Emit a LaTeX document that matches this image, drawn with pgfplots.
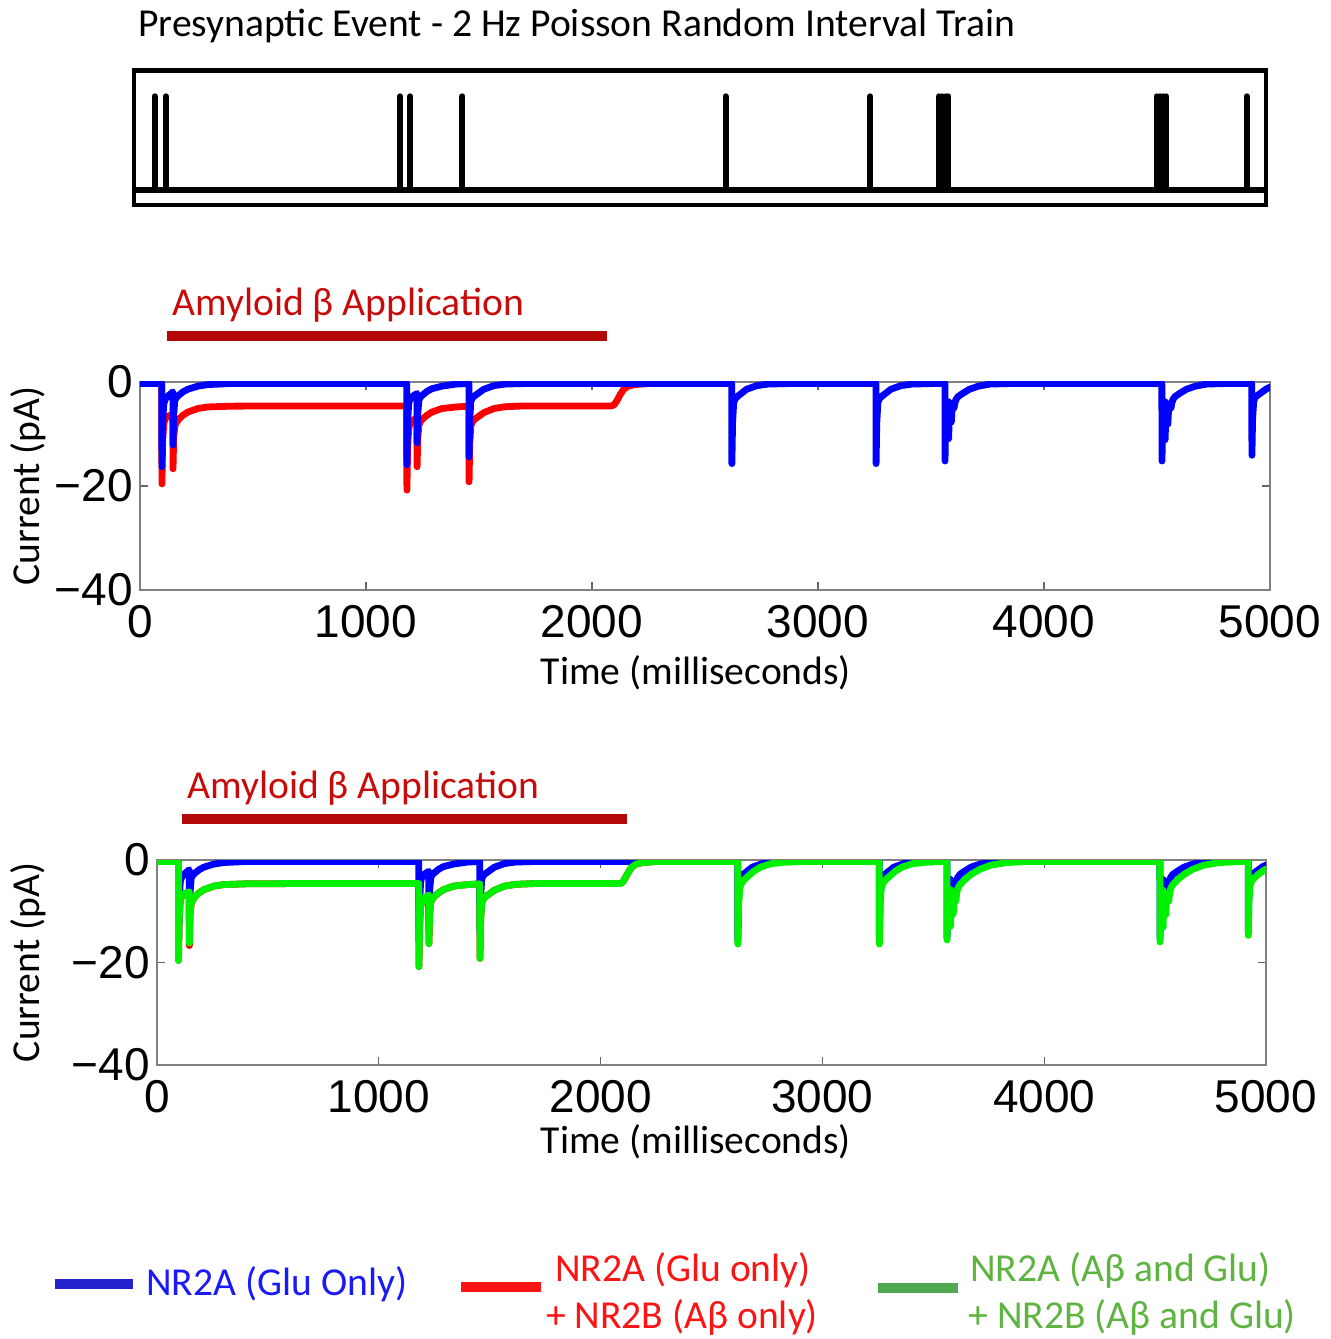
\documentclass[border=0pt]{standalone}
\usepackage{pgfplots}
\usepackage{pgfplotstable}
\pgfplotsset{compat=1.18}
\usepackage{fontspec}
\setmainfont{Carlito}
\newfontfamily\numfont{Liberation Sans}

\definecolor{tblue}{RGB}{0,0,255}
\definecolor{tred}{RGB}{255,0,0}
\definecolor{tgreen}{RGB}{0,240,0}
\definecolor{abtext}{RGB}{200,10,10}
\definecolor{abbar}{RGB}{178,8,8}
\definecolor{legblue}{RGB}{35,35,205}
\definecolor{legbluet}{RGB}{25,25,250}
\definecolor{legred}{RGB}{250,20,20}
\definecolor{leggreen}{RGB}{80,168,80}
\definecolor{leggreent}{RGB}{95,180,65}

% NR2A (Glu only)
\pgfplotstableread{
t v
0 -0.3
96.5 -0.3
97 -16.3
100 -8.2
105 -4.2
112 -3.3
124 -2.7
140 -2.1
145.5 -1.9
146 -12.1
149 -6.4
154 -3.6
161 -3.0
173 -2.5
190 -1.9
211 -1.4
256 -0.8
300 -0.5
400 -0.3
1180.5 -0.3
1181 -15.9
1184 -8.0
1189 -4.1
1196 -3.2
1208 -2.7
1225.5 -2.2
1226 -11.7
1229 -6.2
1234 -3.5
1241 -2.9
1253 -2.4
1270 -1.8
1291 -1.3
1336 -0.8
1400 -0.4
1455.5 -0.3
1456 -14.4
1459 -7.3
1464 -3.8
1471 -3.0
1483 -2.6
1521 -1.4
1566 -0.7
1616 -0.4
1700 -0.3
2618.5 -0.3
2619 -15.7
2622 -7.9
2627 -4.0
2634 -3.2
2646 -2.7
2684 -1.4
2729 -0.7
2779 -0.4
2870 -0.3
3256.5 -0.3
3257 -15.7
3260 -7.9
3265 -4.0
3272 -3.2
3284 -2.7
3322 -1.4
3367 -0.7
3417 -0.4
3510 -0.3
3561.5 -0.3
3562 -15.2
3565 -7.8
3570 -4.4
3577.5 -3.8
3578 -10.9
3581 -6.5
3585 -4.6
3589.5 -4.2
3590 -7.7
3593 -5.4
3597 -4.4
3601.5 -4.0
3602 -5.0
3605 -4.2
3610 -3.4
3620 -2.8
3640 -2.2
3670 -1.4
3710 -0.8
3760 -0.4
3850 -0.3
4521.5 -0.3
4522 -15.2
4525 -7.8
4530 -4.4
4535.5 -3.8
4536 -11.1
4539 -6.6
4543 -4.7
4547.5 -4.3
4548 -8.1
4551 -5.6
4555 -4.5
4561.5 -4.0
4562 -5.0
4565 -4.2
4570 -3.4
4580 -2.8
4600 -2.2
4630 -1.4
4670 -0.8
4720 -0.4
4800 -0.3
4919.5 -0.3
4920 -14.1
4923 -7.1
4928 -3.7
4935 -2.9
4947 -2.5
4985 -1.3
5000 -1.0
}\bluetab

% NR2A (Glu only) + NR2B (Abeta only)
\pgfplotstableread{
t v
0 -0.3
96.5 -0.3
97 -19.6
100 -11.5
105 -8.0
112 -7.0
124 -6.6
140 -6.3
145.5 -6.2
146 -16.7
149 -10.8
154 -8.5
161 -7.8
173 -7.1
190 -6.4
211 -5.8
256 -5.1
300 -4.8
400 -4.65
600 -4.6
1180.5 -4.6
1181 -20.8
1184 -12.8
1189 -8.9
1196 -8.0
1208 -7.4
1225.5 -6.8
1226 -16.3
1229 -10.9
1234 -8.3
1241 -7.6
1253 -7.0
1270 -6.4
1291 -5.8
1336 -5.1
1400 -4.8
1455.5 -4.65
1456 -19.2
1459 -11.9
1464 -8.4
1471 -7.6
1483 -7.1
1521 -5.9
1566 -5.1
1616 -4.75
1700 -4.6
2085 -4.6
2098 -4.4
2110 -3.6
2125 -2.4
2140 -1.4
2160 -0.8
2190 -0.5
2250 -0.3
2400 -0.3
}\redtab

% NR2A (Abeta and Glu) + NR2B (Abeta and Glu)
\pgfplotstableread{
t v
0 -0.3
96.5 -0.3
97 -19.6
100 -11.5
105 -8.0
112 -7.0
124 -6.6
140 -6.3
145.5 -6.2
146 -16.2
149 -10.8
154 -8.5
161 -7.8
173 -7.1
190 -6.4
211 -5.8
256 -5.1
300 -4.8
400 -4.65
600 -4.6
1180.5 -4.6
1181 -20.8
1184 -12.8
1189 -8.9
1196 -8.0
1208 -7.4
1225.5 -6.8
1226 -16.3
1229 -10.9
1234 -8.3
1241 -7.6
1253 -7.0
1270 -6.4
1291 -5.8
1336 -5.1
1400 -4.8
1455.5 -4.65
1456 -19.2
1459 -11.9
1464 -8.4
1471 -7.6
1483 -7.1
1521 -5.9
1566 -5.1
1616 -4.75
1700 -4.6
2085 -4.6
2098 -4.4
2110 -3.6
2125 -2.4
2140 -1.4
2160 -0.8
2190 -0.5
2250 -0.3
2618.5 -0.3
2619 -16.4
2622 -9.0
2627 -5.6
2634 -4.6
2646 -3.9
2664 -3.2
2690 -2.2
2720 -1.4
2770 -0.7
2840 -0.4
2920 -0.3
3256.5 -0.3
3257 -16.4
3260 -9.0
3265 -5.6
3272 -4.6
3284 -3.9
3302 -3.2
3328 -2.2
3358 -1.4
3408 -0.7
3478 -0.4
3540 -0.3
3561.5 -0.3
3562 -15.6
3565 -9.0
3570 -6.4
3577.5 -5.8
3578 -12.9
3581 -8.6
3585 -7.0
3589.5 -6.5
3590 -10.5
3593 -8.0
3597 -6.9
3601.5 -6.4
3602 -8.0
3605 -6.5
3610 -5.6
3620 -4.8
3640 -3.9
3670 -2.8
3710 -1.8
3760 -1.0
3830 -0.5
3920 -0.3
4521.5 -0.3
4522 -16.0
4525 -9.2
4530 -6.5
4535.5 -5.9
4536 -13.1
4539 -8.7
4543 -7.1
4547.5 -6.6
4548 -10.7
4551 -8.1
4555 -7.0
4561.5 -6.5
4562 -8.0
4565 -6.5
4570 -5.6
4580 -4.8
4600 -3.9
4630 -2.8
4670 -1.8
4720 -1.0
4790 -0.5
4880 -0.3
4919.5 -0.3
4920 -14.7
4923 -8.0
4928 -5.0
4935 -4.1
4947 -3.5
4965 -2.8
4991 -2.0
5000 -1.8
}\greentab

\pgfplotsset{
  trace/.style={
    scale only axis,
    xmin=0, xmax=5000, ymin=-40, ymax=0,
    axis line style={black!50, line width=0.6pt},
    tick style={black!60, line width=0.6pt},
    major tick length=4pt,
    xtick={0,1000,2000,3000,4000,5000},
    xticklabels={0,1000,2000,3000,4000,5000},
    ytick={-40,-20,0},
    yticklabels={−40,−20,0},
    tick label style={font=\numfont\fontsize{23}{23}\selectfont},
    xticklabel style={yshift=-4pt},
    label style={font=\fontsize{19.8}{22}\selectfont},
    xlabel={Time (milliseconds)},
    ylabel={Current (pA)},
  },
  curve/.style={line width=3.4pt, line cap=round, line join=round},
}

\begin{document}
\begin{tikzpicture}
\path (0,0) rectangle (665.5pt,669.5pt);

% title
\node[anchor=west, inner sep=0pt, font=\fontsize{19.8}{22}\selectfont] at (69pt,656.5pt)
  {Presynaptic Event - 2 Hz Poisson Random Interval Train};

% spike train
\begin{axis}[
  at={(66.9pt,567pt)}, anchor=south west,
  scale only axis, width=566.1pt, height=67.25pt,
  xmin=5, xmax=5005, ymin=0, ymax=1,
  xtick=\empty, ytick=\empty,
  axis line style={black, line width=2.2pt},
]
\addplot[black, line width=3pt, line cap=round, line join=round] coordinates {
  (5,0.114) (97,0.114) (97,0.808) (97,0.114) (146,0.114) (146,0.808) (146,0.114)
  (1181,0.114) (1181,0.808) (1181,0.114) (1226,0.114) (1226,0.808) (1226,0.114)
  (1456,0.114) (1456,0.808) (1456,0.114) (2619,0.114) (2619,0.808) (2619,0.114)
  (3257,0.114) (3257,0.808) (3257,0.114)
  (3562,0.114) (3562,0.808) (3562,0.114) (3576,0.114) (3576,0.808) (3576,0.114)
  (3590,0.114) (3590,0.808) (3590,0.114) (3602,0.114) (3602,0.808) (3602,0.114)
  (4522,0.114) (4522,0.808) (4522,0.114) (4536,0.114) (4536,0.808) (4536,0.114)
  (4550,0.114) (4550,0.808) (4550,0.114) (4564,0.114) (4564,0.808) (4564,0.114)
  (4920,0.114) (4920,0.808) (4920,0.114) (5005,0.114)
};
\end{axis}

% amyloid application, middle panel
\node[anchor=west, inner sep=0pt, text=abtext, font=\fontsize{19.8}{22}\selectfont] at (86pt,517pt) {Amyloid β Application};
\draw[abbar, line width=5pt] (83.5pt,501.5pt) -- (303.5pt,501.5pt);

% middle panel
\begin{axis}[trace,
  at={(70pt,374.5pt)}, anchor=south west,
  width=565pt, height=104pt,
  xlabel style={at={(axis description cs:0.492,-0.40)}, anchor=center},
  ylabel style={at={(axis description cs:-0.099,0.5)}, anchor=center},
]
\addplot[curve, color=tred] table[x=t, y=v] {\redtab};
\addplot[curve, color=tblue] table[x=t, y=v] {\bluetab};
\end{axis}

% amyloid application, bottom panel
\node[anchor=west, inner sep=0pt, text=abtext, font=\fontsize{19.8}{22}\selectfont] at (93.5pt,275.5pt) {Amyloid β Application};
\draw[abbar, line width=5pt] (91pt,260pt) -- (313.5pt,260pt);

% bottom panel
\begin{axis}[trace,
  at={(78.5pt,137pt)}, anchor=south west,
  width=554.5pt, height=102.5pt,
  xlabel style={at={(axis description cs:0.486,-0.376)}, anchor=center},
  ylabel style={at={(axis description cs:-0.116,0.5)}, anchor=center},
]
\addplot[curve, color=tred] table[x=t, y=v] {\redtab};
\addplot[curve, color=tblue] table[x=t, y=v] {\bluetab};
\addplot[curve, color=tgreen] table[x=t, y=v] {\greentab};
\end{axis}

% legend
\draw[legblue, line width=5pt] (27.5pt,27.5pt) -- (66.5pt,27.5pt);
\node[anchor=west, inner sep=0pt, text=legbluet, font=\fontsize{19.8}{22}\selectfont] at (73pt,27.5pt) {NR2A (Glu Only)};
\draw[legred, line width=5pt] (230.5pt,26pt) -- (270.5pt,26pt);
\node[anchor=center, inner sep=0pt, text=legred, font=\fontsize{19.8}{22}\selectfont] at (341.5pt,34.5pt) {NR2A (Glu only)};
\node[anchor=center, inner sep=0pt, text=legred, font=\fontsize{19.8}{22}\selectfont] at (341pt,11pt) {+ NR2B (Aβ only)};
\draw[leggreen, line width=5pt] (439pt,25.5pt) -- (479pt,25.5pt);
\node[anchor=west, inner sep=0pt, text=leggreent, font=\fontsize{19.8}{22}\selectfont] at (485pt,34.5pt) {NR2A (Aβ and Glu)};
\node[anchor=west, inner sep=0pt, text=leggreent, font=\fontsize{19.8}{22}\selectfont] at (484pt,11pt) {+ NR2B (Aβ and Glu)};
\end{tikzpicture}
\end{document}
